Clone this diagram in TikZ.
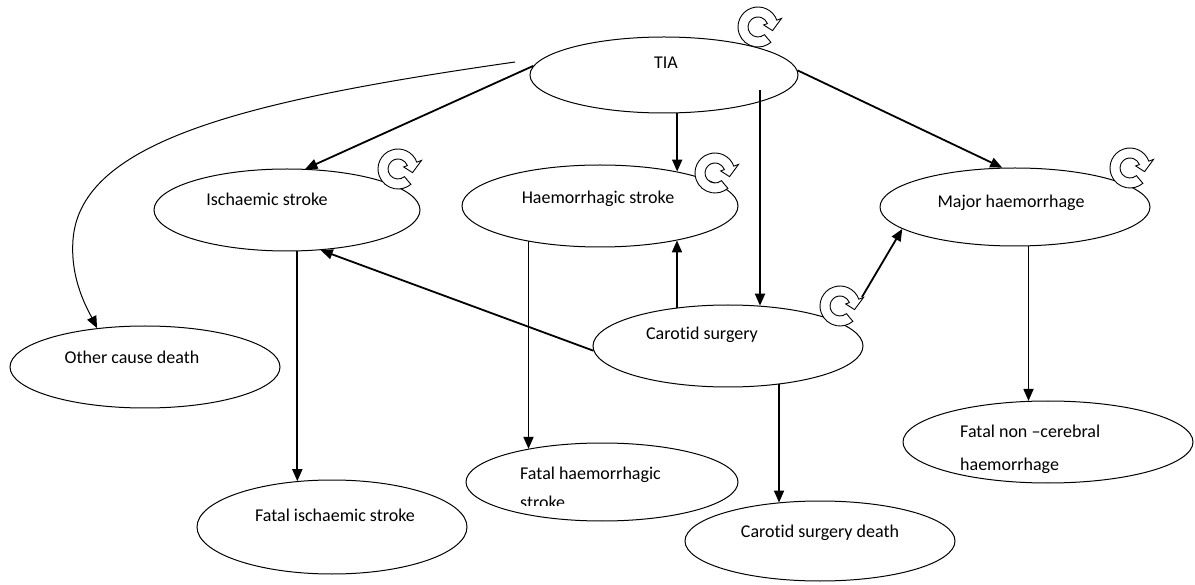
\documentclass[tikz,border=0pt]{standalone}
\usepackage{fontspec}
\setmainfont{Carlito}[Ligatures={NoCommon}]
\usetikzlibrary{arrows.meta,shapes.geometric}
\begin{document}
\begin{tikzpicture}[x=1pt,y=-1pt,
  ell/.style={ellipse, draw, line width=1pt, inner sep=0pt},
  lbl/.style={inner sep=0pt, font=\fontsize{18}{22}\selectfont},
  arr/.style={line width=1.8pt, -{Triangle[length=12pt,width=10pt]}},
  thinarr/.style={line width=1pt, -{Triangle[length=12pt,width=10pt]}},
  selfloop/.pic={
    \begin{scope}[yscale=-1]
      \filldraw[fill=white, line width=0.9pt]
        (20:20) arc[start angle=20, end angle=310, radius=20]
        -- (310:10) arc[start angle=310, end angle=20, radius=10]
        -- (20:6) -- (-14:15) -- (20:25) -- cycle;
    \end{scope}
  }]
\useasboundingbox (0,0) rectangle (1195,585);

% ellipses
\node[ell, minimum width=268pt, minimum height=76pt] (tia) at (664,75) {};
\node[ell, minimum width=266pt, minimum height=82pt] (is)  at (287,210) {};
\node[ell, minimum width=276pt, minimum height=82pt] (hs)  at (600,206) {};
\node[ell, minimum width=270pt, minimum height=78pt] (mh)  at (1015,207) {};
\node[ell, minimum width=270pt, minimum height=82pt] (oc)  at (145,367) {};
\node[ell, minimum width=270pt, minimum height=82pt] (cs)  at (728,346) {};
\node[ell, minimum width=270pt, minimum height=94pt] (fis) at (332,527) {};
\node[ell, minimum width=272pt, minimum height=78pt] (fhs) at (602,482) {};
\node[ell, minimum width=270pt, minimum height=80pt] (csd) at (820,541) {};
\node[ell, minimum width=290pt, minimum height=82pt] (fnc) at (1048,442) {};

% labels
\node[lbl] (tiat) at (666,63) {TIA};
\node[lbl] (ist)  at (267,199) {Ischaemic stroke};
\node[lbl] (hst)  at (598,199) {Haemorrhagic stroke};
\node[lbl] (mht)  at (1011,203) {Major haemorrhage};
\node[lbl] (oct)  at (132,357) {Other cause death};
\node[lbl] (cst)  at (702,335) {Carotid surgery};
\node[lbl] (fist) at (335,515) {Fatal ischaemic stroke};
\node[lbl] (csdt) at (820,533) {Carotid surgery death};
\node[lbl, anchor=base west] (fhsa) at (520,479) {Fatal haemorrhagic};
\begin{scope}
  \clip (400,440) rectangle (760,505);
  \node[lbl, anchor=base west] (fhsb) at (520,508) {stroke};
\end{scope}
\node[lbl, anchor=base west] (fnca) at (960,438) {Fatal non \textendash cerebral};
\node[lbl, anchor=base west] (fncb) at (960,470) {haemorrhage};

% free coordinates
\coordinate (tiain) at (760,90);
\coordinate (ocstart) at (515,62);
\coordinate (cstip) at (862,297);
\coordinate (hsout) at (528.5,241);
\coordinate (mhout) at (1028.5,246);

% connectors
\draw[arr] (tia.176) -- (is.66);
\draw[arr] (tia.-71) -- (tia.-71 |- hs.24);
\draw[arr] (tia.2) -- (mh.108);
\draw[arr] (tiain) -- (tiain |- cs.51);
\draw[thinarr] (ocstart) .. controls (250,100) and (80,140) .. (73,240)
   .. controls (70,280) and (88,310) .. (oc.141);
\draw[arr] (cs.182) -- (is.-50);
\draw[arr] (cs.143) -- (cs.143 |- hs.-24);
\draw[arr] (cstip) -- (mh.191);
\draw[arr] (is.-76) -- (is.-76 |- fis.128);
\draw[arr] (hs.206 -| hsout) -- (hsout |- fhs.156);
\draw[arr] (cs.-37) -- (cs.-37 |- csd.138);
\draw[arr] (mh.-71 -| mhout) -- (mhout |- fnc.117);

% self-loop icons
\pic at (758,27) {selfloop};
\pic at (398,169) {selfloop};
\pic at (715,173) {selfloop};
\pic at (1130,168) {selfloop};
\pic at (840,306) {selfloop};
\end{tikzpicture}
\end{document}
